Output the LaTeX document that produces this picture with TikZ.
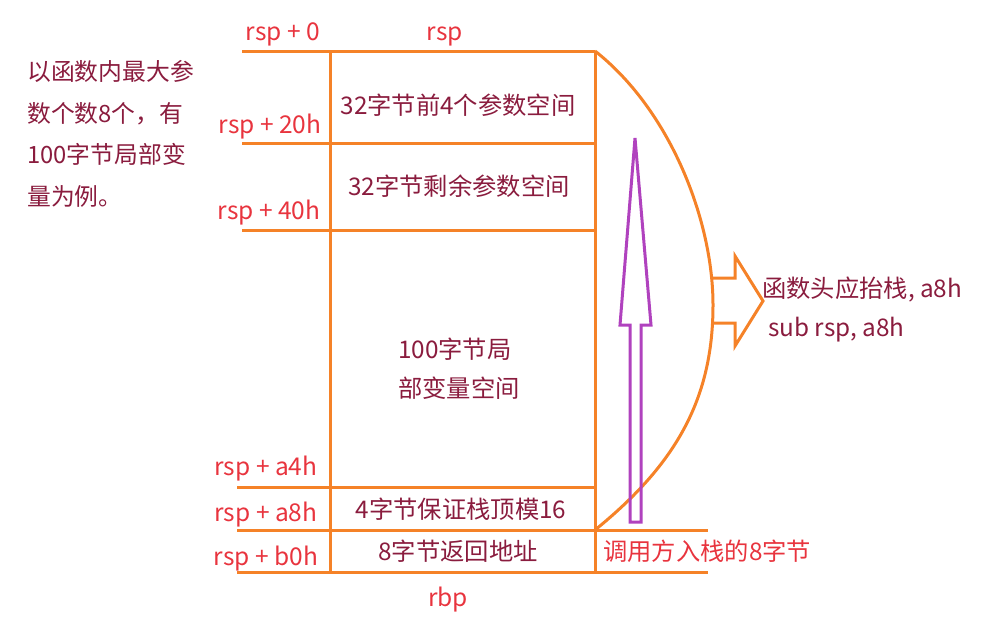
\documentclass[tikz,border=0pt]{standalone}
\usepackage{fontspec}
\setmainfont{Noto Sans CJK SC}
\usetikzlibrary{positioning, calc}
\definecolor{stkorange}{RGB}{245,130,40}
\definecolor{stkred}{RGB}{232,52,62}
\definecolor{stkmaroon}{RGB}{138,28,62}
\definecolor{stkpurple}{RGB}{176,66,190}
\tikzset{
    %Define style for stack lines
    frame/.style={
           draw=stkorange,
           line width=3pt},
 %
    offset/.style={
           text=stkred,
           inner sep=0pt,
           anchor=base,
           font=\fontsize{24.5}{28}\selectfont},
 %
    slot/.style={
           text=stkmaroon,
           inner sep=0pt,
           anchor=base,
           font=\fontsize{24.3}{39}\selectfont},
 %
    note/.style={
           text=stkmaroon,
           inner sep=0pt,
           align=left,
           font=\fontsize{23.8}{41.7}\selectfont}
}
\begin{document}
\begin{tikzpicture}[x=1pt,y=-1pt]
  \useasboundingbox (0,0) rectangle (992,630);

  % corners of the frame
  \coordinate (top) at (595,51);
  \coordinate (ret) at (595,530);
  \coordinate (bot) at (595,572);

  % stack frame
  \draw[frame] (330,51) -- (330,572);
  \draw[frame] (top) -- (bot);
  \foreach \y/\x in {51/242, 143/242, 230/242, 487/237}
    \draw[frame] (\x,\y) -- (595,\y);
  \draw[frame] (237,530) -- (708,530);
  \draw[frame] (237,572) -- (708,572);

  % offsets
  \node[offset] (off0) at (283,40) {rsp + 0};
  \node[offset] (rsp) at (445,40) {rsp};
  \node[offset] (off20) at (270,133) {rsp + 20h};
  \node[offset] (off40) at (269,219) {rsp + 40h};
  \node[offset] (offa4) at (266,475) {rsp + a4h};
  \node[offset] (offa8) at (266,521) {rsp + a8h};
  \node[offset] (offb0) at (266,565) {rsp + b0h};
  \node[offset] (rbp) at (448,606) {rbp};

  % slots
  \node[slot] (args4) at (458,114) {32字节前4个参数空间};
  \node[slot] (argsrest) at (459,195) {32字节剩余参数空间};
  \node[slot, anchor=base west, align=left] (locals) at (398,397) {100字节局\\部变量空间};
  \node[slot] (align16) at (461,518) {4字节保证栈顶模16};
  \node[slot] (retaddr) at (458,560) {8字节返回地址};
  \node[slot, text=stkred, anchor=base west] (caller) at (603,560) {调用方入栈的8字节};

  % notes
  \node[note, anchor=north west] (intro) at (27,60) {以函数内最大参\\数个数8个，有\\100字节局部变\\量为例。};
  \node[slot, anchor=base west] (prolog) at (762,297) {函数头应抬栈, a8h};
  \node[slot, anchor=base west] (subrsp) at (768,336) {sub rsp, a8h};

  % bracket of the frame
  \draw[stkorange, line width=3pt] (top) .. controls (670,110) and (713,220) .. (713,305)
        .. controls (713,400) and (675,465) .. (ret);

  % hollow arrows
  \draw[stkpurple, line width=3pt, line join=miter] (630,522) -- (641,522) -- (641,325)
        -- (651,325) -- (635,138) -- (620,325) -- (630,325) -- cycle;
  \draw[stkorange, line width=3pt, line join=miter] (711,278) -- (735,278) -- (735,256)
        -- (763,301) -- (735,346) -- (735,323) -- (711,323);
\end{tikzpicture}
\end{document}
